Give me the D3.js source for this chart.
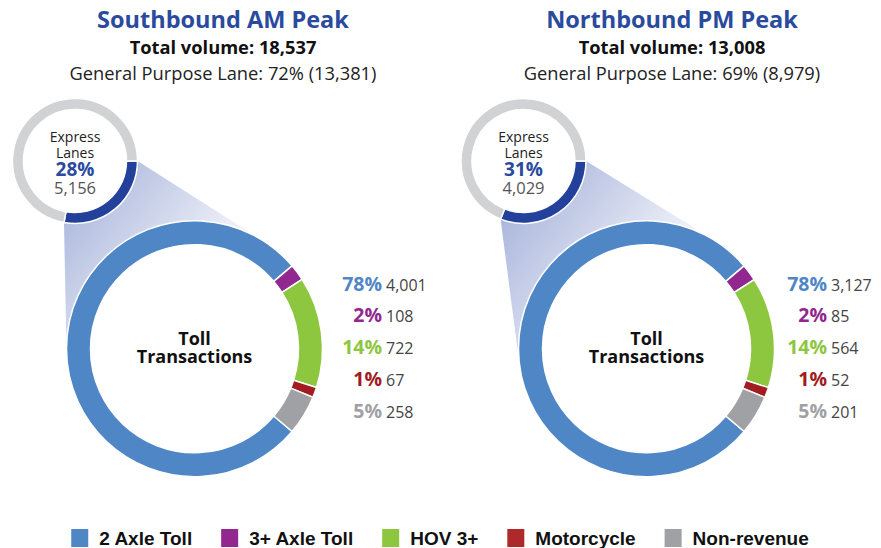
<!DOCTYPE html>
<html>
<head>
<meta charset="utf-8">
<script src="https://cdn.jsdelivr.net/npm/d3@7/dist/d3.min.js"></script>
<style>
  html, body { margin: 0; padding: 0; background: #ffffff; }
  svg { display: block; font-family: "Open Sans", "Liberation Sans", sans-serif; }
</style>
</head>
<body>
<svg id="chart" width="881" height="548"></svg>
<script>
// ---- data ----
const categories = ["2 Axle Toll", "3+ Axle Toll", "HOV 3+", "Motorcycle", "Non-revenue"];
const categoryColors = ["#4f86c6", "#92278f", "#8dc63f", "#a11d21", "#a0a1a5"];
const legendColors = ["#4f86c6", "#92278f", "#8dc63f", "#b0292a", "#a0a1a5"];

const directions = ["Southbound AM Peak", "Northbound PM Peak"];
const totalVolumes = [18537, 13008];
const generalPurposeVolumes = [13381, 8979];
const generalPurposePct = [72, 69];
const expressVolumes = [5156, 4029];
const expressPct = [28, 31];

const southTollValues = [4001, 108, 722, 67, 258];
const southTollPct = [78, 2, 14, 1, 5];
const northTollValues = [3127, 85, 564, 52, 201];
const northTollPct = [78, 2, 14, 1, 5];
const tollValues = [southTollValues, northTollValues];
const tollPct = [southTollPct, northTollPct];

// ---- layout ----
const panelLayout = [
  { titleX: 223, smallCx: 75, smallCy: 161, bigCx: 194.5, bigCy: 348.7, labelX: 382 },
  { titleX: 672, smallCx: 523.5, smallCy: 161, bigCx: 646.5, bigCy: 348.7, labelX: 827 }
];
const smallOuter = 62.5, smallInner = 51.5;
const bigOuter = 128, bigInner = 104;

const titleColor = "#2a4a9e";
const expressColor = "#23409a";
const gpColor = "#d1d2d4";
const fmt = d3.format(",");

const svg = d3.select("#chart");
const defs = svg.append("defs");

// point on a circle, angle measured clockwise from 12 o'clock
function polar(cx, cy, r, a) {
  return [cx + r * Math.sin(a), cy - r * Math.cos(a)];
}
// tangent point on circle (c, r) seen from external point p; side = +1 / -1
function tangentPoint(p, c, r, side) {
  const dx = p[0] - c[0], dy = p[1] - c[1];
  const d = Math.hypot(dx, dy);
  const base = Math.atan2(dy, dx);
  const alpha = Math.acos(r / d);
  const t = base + side * alpha;
  return [c[0] + r * Math.cos(t), c[1] + r * Math.sin(t)];
}

panelLayout.forEach((L, i) => {
  const g = svg.append("g");

  // ---- heading text ----
  g.append("text")
    .attr("x", L.titleX).attr("y", 28)
    .attr("text-anchor", "middle")
    .attr("font-size", 23.5).attr("font-weight", 700)
    .attr("fill", titleColor)
    .text(directions[i]);
  g.append("text")
    .attr("x", L.titleX).attr("y", 54)
    .attr("text-anchor", "middle")
    .attr("font-size", 18.3).attr("font-weight", 700)
    .attr("fill", "#111")
    .text("Total volume: " + fmt(totalVolumes[i]));
  g.append("text")
    .attr("x", L.titleX).attr("y", 80)
    .attr("text-anchor", "middle")
    .attr("font-size", 18.3)
    .attr("fill", "#222")
    .text("General Purpose Lane: " + generalPurposePct[i] + "% (" + fmt(generalPurposeVolumes[i]) + ")");

  // ---- small donut: express vs general purpose ----
  const smallPie = d3.pie().sort(null)
    .startAngle(Math.PI / 2).endAngle(Math.PI / 2 + 2 * Math.PI);
  const smallArcs = smallPie([expressVolumes[i], generalPurposeVolumes[i]]);
  const smallArc = d3.arc().innerRadius(smallInner).outerRadius(smallOuter);

  // ---- funnel connecting the express slice to the toll ring ----
  const ex = smallArcs[0];
  const bc = [L.bigCx, L.bigCy];
  const p1 = polar(L.smallCx, L.smallCy, smallOuter, ex.startAngle);
  const p2 = polar(L.smallCx, L.smallCy, smallOuter, ex.endAngle);
  const t1 = tangentPoint(p1, bc, bigOuter, 1);   // right-hand tangent
  const t2 = tangentPoint(p2, bc, bigOuter, -1);  // left-hand tangent

  const gradId = "funnel" + i;
  const grad = defs.append("linearGradient")
    .attr("id", gradId)
    .attr("gradientUnits", "userSpaceOnUse")
    .attr("x1", L.smallCx).attr("y1", L.smallCy)
    .attr("x2", L.bigCx + 40).attr("y2", L.bigCy - 60);
  grad.append("stop").attr("offset", 0).attr("stop-color", "#a3b0d9");
  grad.append("stop").attr("offset", 1).attr("stop-color", "#ffffff");

  const a2 = Math.atan2(t2[1] - L.bigCy, t2[0] - L.bigCx);
  let a1 = Math.atan2(t1[1] - L.bigCy, t1[0] - L.bigCx);
  if (a1 < a2) a1 += 2 * Math.PI;
  const path = d3.path();
  path.moveTo(p1[0], p1[1]);
  path.arc(L.smallCx, L.smallCy, smallOuter,
    ex.startAngle - Math.PI / 2, ex.endAngle - Math.PI / 2, false);
  path.lineTo(t2[0], t2[1]);
  path.arc(L.bigCx, L.bigCy, bigOuter, a2, a1, false);
  path.closePath();
  g.append("path").attr("d", path.toString()).attr("fill", "url(#" + gradId + ")");

  const sg = g.append("g").attr("transform", `translate(${L.smallCx},${L.smallCy})`);
  sg.selectAll("path").data(smallArcs).join("path")
    .attr("d", smallArc)
    .attr("fill", (d, k) => k === 0 ? expressColor : gpColor)
    .attr("stroke", "#fff").attr("stroke-width", 1.5);
  sg.append("text").attr("y", -19.5).attr("text-anchor", "middle")
    .attr("font-size", 14).attr("fill", "#222").text("Express");
  sg.append("text").attr("y", -3).attr("text-anchor", "middle")
    .attr("font-size", 14).attr("fill", "#222").text("Lanes");
  sg.append("text").attr("y", 15).attr("text-anchor", "middle")
    .attr("font-size", 19).attr("font-weight", 700).attr("fill", titleColor)
    .text(expressPct[i] + "%");
  sg.append("text").attr("y", 33.3).attr("text-anchor", "middle")
    .attr("font-size", 16.5).attr("fill", "#555").text(fmt(expressVolumes[i]));

  // ---- big donut: toll transactions by class ----
  const vals = tollValues[i];
  const total = d3.sum(vals);
  const firstAngle = 2 * Math.PI * vals[0] / total;
  const start = (3 * Math.PI - firstAngle) / 2; // centre the minor classes at 3 o'clock
  const bigPie = d3.pie().sort(null).startAngle(start).endAngle(start + 2 * Math.PI);
  const bigArc = d3.arc().innerRadius(bigInner).outerRadius(bigOuter);
  const bg = g.append("g").attr("transform", `translate(${L.bigCx},${L.bigCy})`);
  bg.selectAll("path").data(bigPie(vals)).join("path")
    .attr("d", bigArc)
    .attr("fill", (d, k) => categoryColors[k])
    .attr("stroke", "#fff").attr("stroke-width", 1.5);
  bg.append("text").attr("y", -4).attr("text-anchor", "middle")
    .attr("font-size", 18).attr("font-weight", 700).attr("fill", "#111").text("Toll");
  bg.append("text").attr("y", 14.5).attr("text-anchor", "middle")
    .attr("font-size", 18).attr("font-weight", 700).attr("fill", "#111").text("Transactions");

  // ---- value list ----
  const rowY = d3.scalePoint().domain(d3.range(vals.length)).range([290.7, 417.7]);
  const rows = g.selectAll("g.row").data(vals).join("g").attr("class", "row")
    .attr("transform", (d, k) => `translate(${L.labelX},${rowY(k)})`);
  rows.append("text").attr("text-anchor", "end")
    .attr("font-size", 19.5).attr("font-weight", 700)
    .attr("fill", (d, k) => categoryColors[k])
    .text((d, k) => tollPct[i][k] + "%");
  rows.append("text").attr("x", 4)
    .attr("font-size", 16).attr("fill", "#444")
    .text(d => fmt(d));
});

// ---- legend ----
const legend = svg.append("g");
const items = legend.selectAll("g").data(categories).join("g");
items.append("rect").attr("width", 17).attr("height", 18).attr("y", -16)
  .attr("fill", (d, k) => legendColors[k]);
items.append("text").attr("x", 28)
  .attr("font-size", 19).attr("font-weight", 700)
  .attr("font-family", "'Liberation Sans', Arial, sans-serif")
  .attr("fill", "#111").text(d => d);
let xPos = 0;
const offsets = [];
items.each(function () {
  offsets.push(xPos);
  xPos += 28 + d3.select(this).select("text").node().getComputedTextLength() + 29;
});
const legendWidth = xPos - 29;
items.attr("transform", (d, k) => `translate(${offsets[k]},0)`);
legend.attr("transform", `translate(${440 - legendWidth / 2},545)`);
</script>
</body>
</html>
